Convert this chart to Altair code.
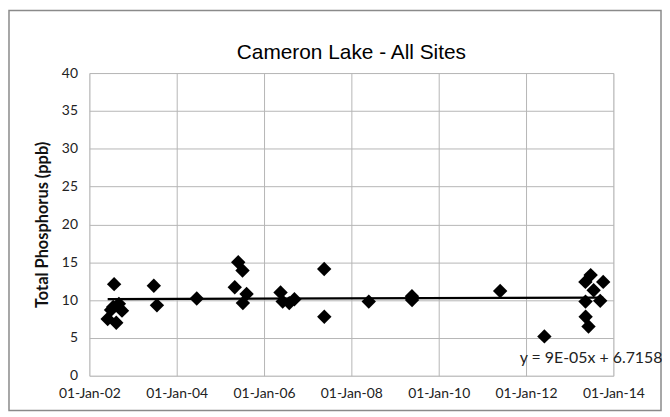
import altair as alt
import pandas as pd

dates = [
    "2002-06-03", "2002-07-01", "2002-07-19", "2002-07-27", "2002-08-14", "2002-09-05", "2002-10-01",
    "2003-06-24", "2003-07-20", "2004-06-17",
    "2005-05-01", "2005-05-30", "2005-07-05", "2005-07-08", "2005-08-08",
    "2006-05-19", "2006-06-06", "2006-07-31", "2006-09-12",
    "2007-05-19", "2007-05-20", "2008-05-26", "2009-05-22", "2009-05-23",
    "2011-05-30", "2012-06-03",
    "2013-05-12", "2013-05-13", "2013-05-14", "2013-06-07", "2013-06-25", "2013-07-20", "2013-09-13", "2013-10-08",
]
tp = [
    7.5, 8.7, 9.1, 12.1, 7.0, 9.5, 8.6,
    11.9, 9.3, 10.2,
    11.7, 15.0, 13.9, 9.6, 10.8,
    11.0, 9.8, 9.6, 10.1,
    14.1, 7.8, 9.8, 10.5, 10.0,
    11.2, 5.2,
    12.4, 9.8, 7.8, 6.5, 13.3, 11.3, 9.9, 12.4,
]
tick_years = [2002, 2004, 2006, 2008, 2010, 2012, 2014]
y_ticks = [0, 5, 10, 15, 20, 25, 30, 35, 40]
title_text = "Cameron Lake - All Sites"
y_title = "Total Phosphorus (ppb)"
equation = "y = 9E-05x + 6.7158"

df = pd.DataFrame({"date": dates, "tp": tp})

LABEL_FONT = "Lato"
GRID = "#b5b5b5"

x_enc = alt.X(
    "date:T",
    scale=alt.Scale(
        type="utc",
        domain=[alt.DateTime(year=2002, month=1, date=1, utc=True),
                alt.DateTime(year=2014, month=1, date=1, utc=True)],
    ),
    axis=alt.Axis(
        title=None,
        values=[alt.DateTime(year=y, month=1, date=1, utc=True) for y in tick_years],
        labelExpr="utcFormat(datum.value, '%d-%b-%y')",
        labelOverlap=False,
        labelFlush=False,
        labelAlign="center",
        grid=True,
        gridColor=GRID,
        gridWidth=1,
        domain=False,
        ticks=False,
        labelPadding=11,
        labelFont=LABEL_FONT,
        labelFontSize=14,
        labelColor="#222222",
    ),
)
y_enc = alt.Y(
    "tp:Q",
    scale=alt.Scale(domain=[0, 40], nice=False),
    axis=alt.Axis(
        title=y_title,
        values=y_ticks,
        grid=True,
        gridColor=GRID,
        gridWidth=1,
        domain=False,
        ticks=False,
        labelPadding=12,
        labelFont=LABEL_FONT,
        labelFontSize=14,
        labelColor="#222222",
        titleFont=LABEL_FONT,
        titleFontSize=16.5,
        titleFontWeight="bold",
        titleColor="#111111",
        titlePadding=11,
    ),
)

points = alt.Chart(df).mark_point(
    shape="diamond", filled=True, color="black", size=210, opacity=1
).encode(x=x_enc, y=y_enc)

trend = alt.Chart(df).transform_regression("date", "tp").mark_line(
    color="black", strokeWidth=2.2
).encode(x=x_enc, y=y_enc)

eq_df = pd.DataFrame({"date": ["2011-11-10"], "tp": [2.4], "label": [equation]})
eq = alt.Chart(eq_df).mark_text(
    align="left", baseline="middle", font=LABEL_FONT, fontSize=16, color="#222222"
).encode(x=x_enc, y=y_enc, text="label:N")

one = pd.DataFrame({"label": [title_text]})
border = alt.Chart(one).mark_rect(
    fill=None, stroke="#8a8a8a", strokeWidth=1.5
).encode(
    x=alt.value(-81), x2=alt.value(576),
    y=alt.value(-63), y2=alt.value(340),
)
title = alt.Chart(one).mark_text(
    font="Liberation Sans", fontSize=21, color="black",
    align="center", baseline="alphabetic",
).encode(x=alt.value(264), y=alt.value(-14), text="label:N")

chart = alt.layer(border, points, trend, eq, title).properties(
    width=528,
    height=305,
    autosize=alt.AutoSizeParams(type="none"),
    padding={"left": 82, "top": 64, "right": 49, "bottom": 36},
).configure_view(
    stroke="#8a8a8a", strokeWidth=2.5
).configure(background="white")

chart.save("out.html", embed_options={"renderer": "svg", "actions": False})
